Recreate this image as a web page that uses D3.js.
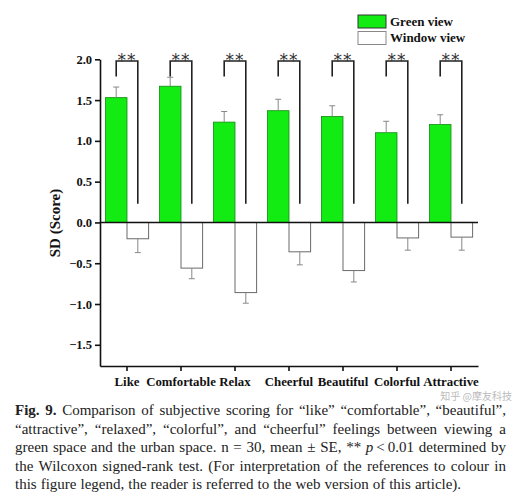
<!DOCTYPE html>
<html><head><meta charset="utf-8">
<script src="https://cdn.jsdelivr.net/npm/d3@7"></script>
<style>body{margin:0;background:#fff}svg{display:block}</style>
</head><body>
<svg id="c" width="530" height="499"></svg>
<script>
const categories = ["Like","Comfortable","Relax","Cheerful","Beautiful","Colorful","Attractive"];
const greenMean = [1.53, 1.67, 1.23, 1.37, 1.30, 1.10, 1.20];
const greenSE   = [0.13, 0.11, 0.13, 0.14, 0.13, 0.14, 0.12];
const windowMean = [-0.20, -0.56, -0.86, -0.36, -0.59, -0.19, -0.18];
const windowSE   = [0.17, 0.13, 0.13, 0.16, 0.14, 0.15, 0.16];
const yTicks = [2.0, 1.5, 1.0, 0.5, 0.0, -0.5, -1.0, -1.5];
const seriesNames = ["Green view", "Window view"];
const sigLabel = "**";
const bracketTop = 1.98, bracketLeftEnd = 1.79, bracketRightEnd = 0.23;
const yTitle = "SD (Score)";
const captionLines = [
  [{t:"Fig. 9.",b:true},{t:"Comparison of subjective scoring for “like” “comfortable”, “beautiful”,"}],
  [{t:"“attractive”, “relaxed”, “colorful”, and “cheerful” feelings between viewing a"}],
  [{t:"green space and the urban space. n = 30, mean ± SE, **"},{t:"p",i:true,own:true},{t:"\u2009<\u20090.01",join:true},{t:"determined by"}],
  [{t:"the Wilcoxon signed-rank test. (For interpretation of the references to colour in"}],
  [{t:"this figure legend, the reader is referred to the web version of this article)."}]
];
const watermark = "知乎 @摩友科技";

const svg = d3.select("#c");
const serif = "'Liberation Serif','Times New Roman',serif";
const x = d3.scaleBand().domain(categories).range([100, 478]).paddingInner(0.2).paddingOuter(0.1);
const y = d3.scaleLinear().domain([-1.76, 2.0]).range([366, 59.3]);
const bw = x.bandwidth()/2;
const green = "#12ec12";

const g = svg.append("g");
categories.forEach((c,i)=>{
  const x0 = x(c);
  g.append("rect").attr("x", x0).attr("y", y(greenMean[i])).attr("width", bw)
   .attr("height", y(0)-y(greenMean[i])).attr("fill", green).attr("stroke","#138a13").attr("stroke-width",0.8);
  g.append("rect").attr("x", x0+bw).attr("y", y(0)).attr("width", bw)
   .attr("height", y(windowMean[i])-y(0)).attr("fill","#fff").attr("stroke","#6a6a6a").attr("stroke-width",1);
  const gx = x0 + bw/2, wx = x0 + bw*1.5;
  const eg = y(greenMean[i]+greenSE[i]), ew = y(windowMean[i]-windowSE[i]);
  g.append("line").attr("x1",gx).attr("x2",gx).attr("y1",y(greenMean[i])).attr("y2",eg).attr("stroke","#888").attr("stroke-width",1);
  g.append("line").attr("x1",gx-3).attr("x2",gx+3).attr("y1",eg).attr("y2",eg).attr("stroke","#888").attr("stroke-width",1);
  g.append("line").attr("x1",wx).attr("x2",wx).attr("y1",y(windowMean[i])).attr("y2",ew).attr("stroke","#888").attr("stroke-width",1);
  g.append("line").attr("x1",wx-3).attr("x2",wx+3).attr("y1",ew).attr("y2",ew).attr("stroke","#888").attr("stroke-width",1);
  g.append("path").attr("d", `M${gx},${y(bracketLeftEnd)}V${y(bracketTop)}H${wx}V${y(bracketRightEnd)}`)
   .attr("fill","none").attr("stroke","#222").attr("stroke-width",1.6);
  g.append("text").attr("x", x0+bw).attr("y", y(bracketTop)+5).attr("text-anchor","middle")
   .attr("font-family","'DejaVu Sans',sans-serif").attr("font-size",17).attr("fill","#333").attr("letter-spacing",1).text(sigLabel);
});

g.append("line").attr("x1",100).attr("x2",478).attr("y1",y(0)).attr("y2",y(0)).attr("stroke","#111").attr("stroke-width",1.6);

const ya = svg.append("g").attr("transform","translate(100,0)")
  .call(d3.axisLeft(y).tickValues(yTicks).tickFormat(d3.format(".1f")).tickSize(5).tickSizeOuter(0));
ya.select(".domain").attr("stroke","#111").attr("stroke-width",1.6);
ya.selectAll(".tick line").attr("stroke","#111").attr("stroke-width",1.6);
ya.selectAll("text").attr("font-family",serif).attr("font-weight","bold").attr("font-size",12.5).attr("fill","#111").attr("x",-8);

const xa = svg.append("g").attr("transform","translate(0,366)")
  .call(d3.axisBottom(x).tickSize(5).tickSizeOuter(0));
xa.select(".domain").attr("stroke","#111").attr("stroke-width",1.6);
xa.selectAll(".tick line").attr("stroke","#111").attr("stroke-width",1.6);
xa.selectAll("text").attr("font-family",serif).attr("font-weight","bold").attr("font-size",12.8).attr("fill","#111").attr("y",11);

svg.append("text").attr("transform","translate(60,223) rotate(-90)").attr("text-anchor","middle")
  .attr("font-family",serif).attr("font-weight","bold").attr("font-size",15).attr("fill","#111").text(yTitle);

const leg = svg.append("g");
[green,"#fff"].forEach((col,i)=>{
  leg.append("rect").attr("x",358).attr("y",15+i*16.5).attr("width",28).attr("height",13)
   .attr("fill",col).attr("stroke", i===0?"#333":"#888").attr("stroke-width",1);
  leg.append("text").attr("x",390).attr("y",26+i*16).attr("font-family",serif).attr("font-weight","bold")
   .attr("font-size",13).attr("fill","#111").text(seriesNames[i]);
});

const cap = svg.append("g").attr("font-family",serif).attr("font-size",15).attr("fill","#222");
const left = 15, right = 506;
const baselines = [415, 433.5, 452, 470.5, 489];
captionLines.forEach((parts,li)=>{
  const groups = [];
  parts.forEach(p=>{
    if (p.join) { groups[groups.length-1].push({t:p.t}); return; }
    if (p.own) { groups.push([{t:p.t,i:p.i,b:p.b}]); return; }
    p.t.split(" ").filter(s=>s.length).forEach(w=>groups.push([{t:w,b:p.b,i:p.i}]));
  });
  const nodes = groups.map(gr=>{
    const t = cap.append("text").attr("y", baselines[li]);
    gr.forEach(w=>{ const ts=t.append("tspan").text(w.t); if(w.b) ts.attr("font-weight","bold"); if(w.i) ts.attr("font-style","italic"); });
    return t;
  });
  const widths = nodes.map(n=>n.node().getComputedTextLength());
  const total = d3.sum(widths);
  const last = li === captionLines.length-1;
  const gap = last ? 4 : (right-left-total)/(nodes.length-1);
  let cx = left;
  nodes.forEach((n,k)=>{ n.attr("x",cx); cx += widths[k] + gap; });
});

// faint watermark, placed in free space to the lower right of the plot
svg.append("text").attr("x",512).attr("y",400).attr("text-anchor","end").attr("font-family","'Noto Sans CJK SC',sans-serif")
  .attr("font-size",10).attr("fill","#bbb").text(watermark);
</script>
</body></html>
